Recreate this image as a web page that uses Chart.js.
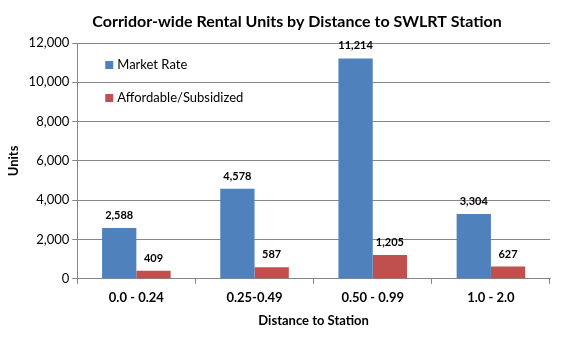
<!DOCTYPE html>
<html>
<head>
<meta charset="utf-8">
<script src="https://cdn.jsdelivr.net/npm/chart.js@4/dist/chart.umd.min.js"></script>
<style>
  html, body { margin: 0; padding: 0; background: #fff; }
  #wrap { width: 574px; height: 344px; }
</style>
</head>
<body>
<div id="wrap"><canvas id="chart"></canvas></div>
<script>
const categories = ['0.0 - 0.24', '0.25-0.49', '0.50 - 0.99', '1.0 - 2.0'];
const marketRate = [2588, 4578, 11214, 3304];
const affordable = [409, 587, 1205, 627];
const seriesNames = ['Market Rate', 'Affordable/Subsidized'];
const seriesColors = ['#4f81bd', '#c0504d'];
const chartTitle = 'Corridor-wide Rental Units by Distance to SWLRT Station';

const FONT = 'Lato, "Open Sans", sans-serif';

// title drawn by hand so it can sit a bit right of the canvas centre
const topTitle = {
    id: 'topTitle',
    afterDraw(chart) {
        const ctx = chart.ctx;
        ctx.save();
        ctx.font = 'bold 16px ' + FONT;
        ctx.fillStyle = '#000';
        ctx.textAlign = 'center';
        ctx.textBaseline = 'middle';
        ctx.fillText(chartTitle, 297, 22);
        ctx.restore();
    }
};

// value labels above each bar
const valueLabels = {
    id: 'valueLabels',
    afterDatasetsDraw(chart) {
        const ctx = chart.ctx;
        ctx.save();
        ctx.font = 'bold 11px ' + FONT;
        ctx.fillStyle = '#000';
        ctx.textAlign = 'center';
        ctx.textBaseline = 'bottom';
        chart.data.datasets.forEach((ds, i) => {
            chart.getDatasetMeta(i).data.forEach((bar, j) => {
                ctx.fillText(ds.data[j].toLocaleString('en-US'), bar.x, bar.y - 7);
            });
        });
        ctx.restore();
    }
};

// legend drawn inside plot area, stacked vertically
const innerLegend = {
    id: 'innerLegend',
    afterDraw(chart) {
        const ctx = chart.ctx;
        const area = chart.chartArea;
        ctx.save();
        ctx.font = '13px ' + FONT;
        ctx.textBaseline = 'middle';
        ctx.textAlign = 'left';
        seriesNames.forEach((name, i) => {
            const y = area.top + 22 + i * 33;
            const x = area.left + 28;
            ctx.fillStyle = seriesColors[i];
            ctx.fillRect(x, y - 4, 8, 8);
            ctx.fillStyle = '#000';
            ctx.fillText(name, x + 12, y);
        });
        ctx.restore();
    }
};

new Chart(document.getElementById('chart'), {
    type: 'bar',
    data: {
        labels: categories,
        datasets: [
            { label: seriesNames[0], data: marketRate, backgroundColor: seriesColors[0] },
            { label: seriesNames[1], data: affordable, backgroundColor: seriesColors[1] }
        ]
    },
    options: {
        responsive: true,
        maintainAspectRatio: false,
        animation: false,
        layout: { padding: { top: 43, right: 24, left: 2, bottom: 11 } },
        datasets: { bar: { categoryPercentage: 0.58, barPercentage: 1.0 } },
        plugins: {
            legend: { display: false },
            tooltip: { enabled: false },
            title: { display: false }
        },
        scales: {
            x: {
                grid: { display: true, drawOnChartArea: false, offset: true, color: '#868686', tickLength: 5 },
                border: { color: '#868686' },
                ticks: { color: '#000', font: { family: FONT, size: 13, weight: 'bold' }, padding: 6 },
                title: {
                    display: true, text: 'Distance to Station', color: '#000',
                    font: { family: FONT, size: 13, weight: 'bold' }, padding: { top: 2 }
                }
            },
            y: {
                min: 0, max: 12000,
                ticks: {
                    stepSize: 2000, color: '#000',
                    font: { family: FONT, size: 13 },
                    callback: v => v.toLocaleString('en-US')
                },
                grid: { color: '#868686', tickLength: 5 },
                border: { color: '#868686' },
                title: {
                    display: true, text: 'Units', color: '#000',
                    font: { family: FONT, size: 13, weight: 'bold' }
                }
            }
        }
    },
    plugins: [topTitle, valueLabels, innerLegend]
});
</script>
</body>
</html>
